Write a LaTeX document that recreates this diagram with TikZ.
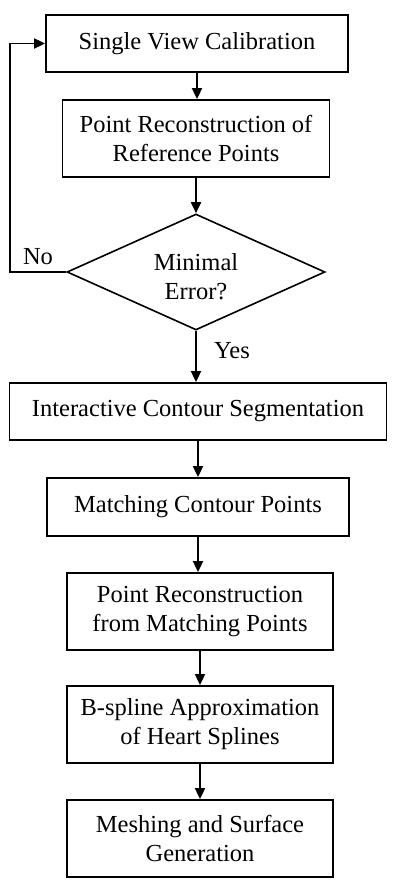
\documentclass[tikz,border=0pt]{standalone}
\usepackage{fontspec}
\setmainfont{Liberation Serif}
\usetikzlibrary{shapes.geometric,arrows.meta}
\begin{document}
\begin{tikzpicture}[x=1pt,y=-1pt,
  every node/.style={font=\fontsize{24.5}{29}\selectfont},
  box/.style={draw,line width=1.8pt,align=center,inner sep=0pt},
  dec/.style={draw,line width=1.6pt,shape=diamond,inner sep=0pt,aspect=2.22},
  arr/.style={line width=1.8pt,-{Triangle[length=11pt,width=10pt]}},
  lbl/.style={inner sep=0pt,align=center}]
\useasboundingbox (0,0) rectangle (400,890);
\node[box,minimum width=302pt,minimum height=57pt] (b1) at (197,43.5) {Single View Calibration};
\node[box,minimum width=267pt,minimum height=77pt] (b2) at (196,138.5) {Point Reconstruction of\\Reference Points};
\node[dec,minimum width=258pt,minimum height=116pt] (d) at (196,272) {};
\node[lbl] (dt) at (196,277) {Minimal\\Error?};
\node[box,minimum width=377pt,minimum height=57pt] (b3) at (198,411.5) {Interactive Contour Segmentation};
\node[box,minimum width=302pt,minimum height=58pt] (b4) at (198,507) {Matching Contour Points};
\node[box,minimum width=266pt,minimum height=77pt] (b5) at (200,611.5) {Point Reconstruction\\from Matching Points};
\node[box,minimum width=266pt,minimum height=77pt] (b6) at (200,724.5) {B-spline Approximation\\of Heart Splines};
\node[box,minimum width=266pt,minimum height=77pt] (b7) at (200,838.5) {Meshing and Surface\\Generation};
\node[lbl] (no) at (38,257) {No};
\node[lbl] (yes) at (232,351) {Yes};
\coordinate (lp) at (10,0);
\draw[arr] (b1.south) -- (b1.south |- b2.north);
\draw[arr] (b2.south) -- (b2.south |- d.north);
\draw[arr] (d.south) -- (d.south |- b3.north);
\draw[arr] (b3.south) -- (b3.south |- b4.north);
\draw[arr] (b4.south) -- (b4.south |- b5.north);
\draw[arr] (b5.south) -- (b5.south |- b6.north);
\draw[arr] (b6.south) -- (b6.south |- b7.north);
\draw[arr] (d.west) -- (d.west -| lp) |- (b1.west);
\end{tikzpicture}
\end{document}
